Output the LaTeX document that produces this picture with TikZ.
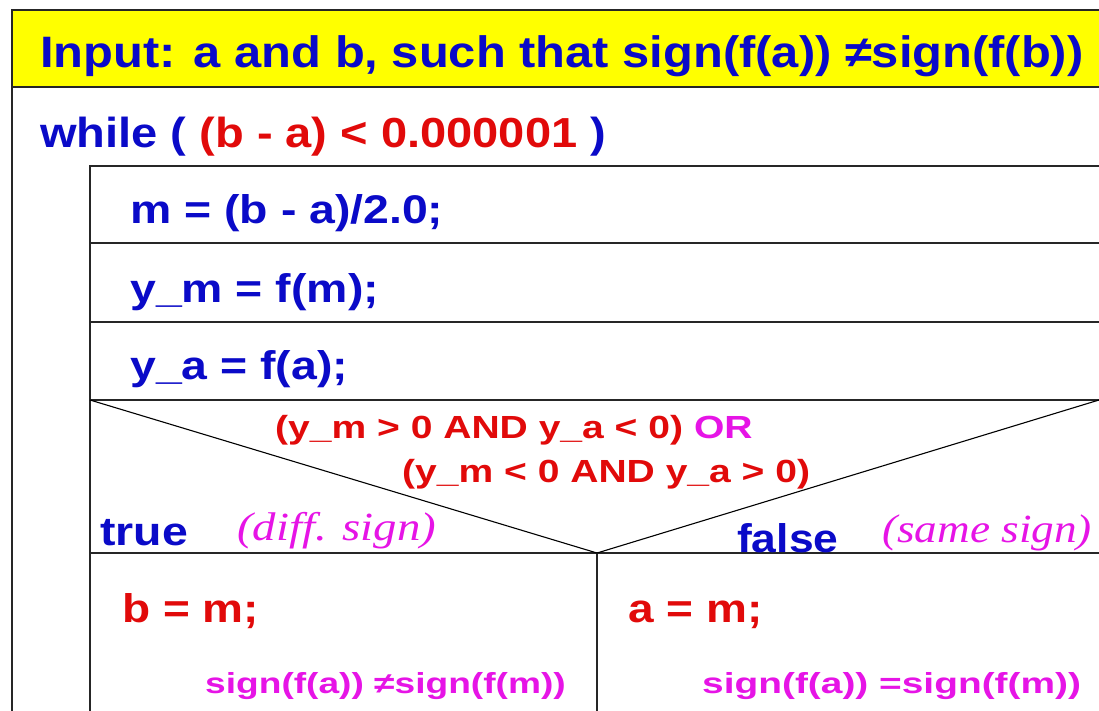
\documentclass[tikz,border=0pt]{standalone}
\usepackage{fontspec}
\setmainfont{Liberation Sans}
\newfontfamily\timesit{Liberation Serif}
\newcommand{\wider}[2]{\scalebox{#1}[1]{#2}}
\definecolor{nsblue}{RGB}{10,10,200}
\definecolor{nsred}{RGB}{225,10,10}
\definecolor{nsmag}{RGB}{230,20,230}
\definecolor{nsyellow}{RGB}{255,255,0}
\begin{document}
\begin{tikzpicture}[x=1pt, y=-1pt,
  frame/.style={draw=black!85, line width=1.6pt},
  big/.style={anchor=base west, inner sep=0pt, font=\bfseries\fontsize{44}{48}\selectfont},
  code/.style={anchor=base west, inner sep=0pt, font=\bfseries\fontsize{40}{44}\selectfont},
  small/.style={anchor=base west, inner sep=0pt, font=\bfseries\fontsize{32}{36}\selectfont},
  tiny/.style={anchor=base west, inner sep=0pt, text=nsmag, font=\bfseries\fontsize{29}{33}\selectfont},
  remark/.style={anchor=base west, inner sep=0pt, text=nsmag, font=\timesit\itshape\fontsize{40}{44}\selectfont}]
 \useasboundingbox (0,0) rectangle (1099,710);
 \clip (0,0) rectangle (1099,710);
 % outer block
 \fill[white] (0,0) rectangle (1099,710);
 \draw[frame, fill=nsyellow] (12,10) rectangle (1110,87);
 \draw[frame] (12,87) -- (12,720);
 % loop body
 \draw[frame] (90,166) rectangle (1110,720);
 \draw[frame] (90,243) -- (1110,243);
 \draw[frame] (90,322) -- (1110,322);
 \draw[frame] (90,400) -- (1110,400);
 \draw[frame] (90,553) -- (1110,553);
 \draw[frame] (597,553) -- (597,720);
 \draw[line width=1.1pt] (90,400) -- (597,553) -- (1099,400);
 % texts
 \node[big, text=nsblue] (head) at (40,67) {\wider{1.11}{Input: a and b, such that sign(f(a)) ≠sign(f(b))}};
 \node[big, font=\bfseries\fontsize{42}{46}\selectfont, text=nsblue] (loop) at (40,147) {\wider{1.12}{while ( \textcolor{nsred}{(b - a) < 0.000001} )}};
 \node[code, text=nsblue] (mid) at (130,223) {\wider{1.16}{m = (b - a)/2.0;}};
 \node[code, text=nsblue] (ym) at (130,302) {\wider{1.16}{y\_m = f(m);}};
 \node[code, text=nsblue] (ya) at (130,379) {\wider{1.16}{y\_a = f(a);}};
 \node[small, text=nsred] (cond1) at (275,438) {\wider{1.22}{(y\_m > 0 AND y\_a < 0) \textcolor{nsmag}{OR}}};
 \node[small, text=nsred] (cond2) at (402,482) {\wider{1.22}{(y\_m < 0 AND y\_a > 0)}};
 \node[code, text=nsblue] (yes) at (100,545) {\wider{1.16}{true}};
 \node[remark] (yesnote) at (237,540) {\wider{1.17}{(diff. sign)}};
 \node[code, text=nsblue] (no) at (737,552) {\wider{1.11}{false}};
 \node[remark] (nonote) at (882,542) {\wider{1.13}{(same sign)}};
 \node[code, text=nsred] (setb) at (122,622) {\wider{1.15}{b = m;}};
 \node[tiny] (signb) at (205,693) {\wider{1.28}{sign(f(a)) ≠sign(f(m))}};
 \node[code, text=nsred] (seta) at (628,622) {\wider{1.15}{a = m;}};
 \node[tiny] (signa) at (702,693) {\wider{1.34}{sign(f(a)) =sign(f(m))}};
\end{tikzpicture}
\end{document}
